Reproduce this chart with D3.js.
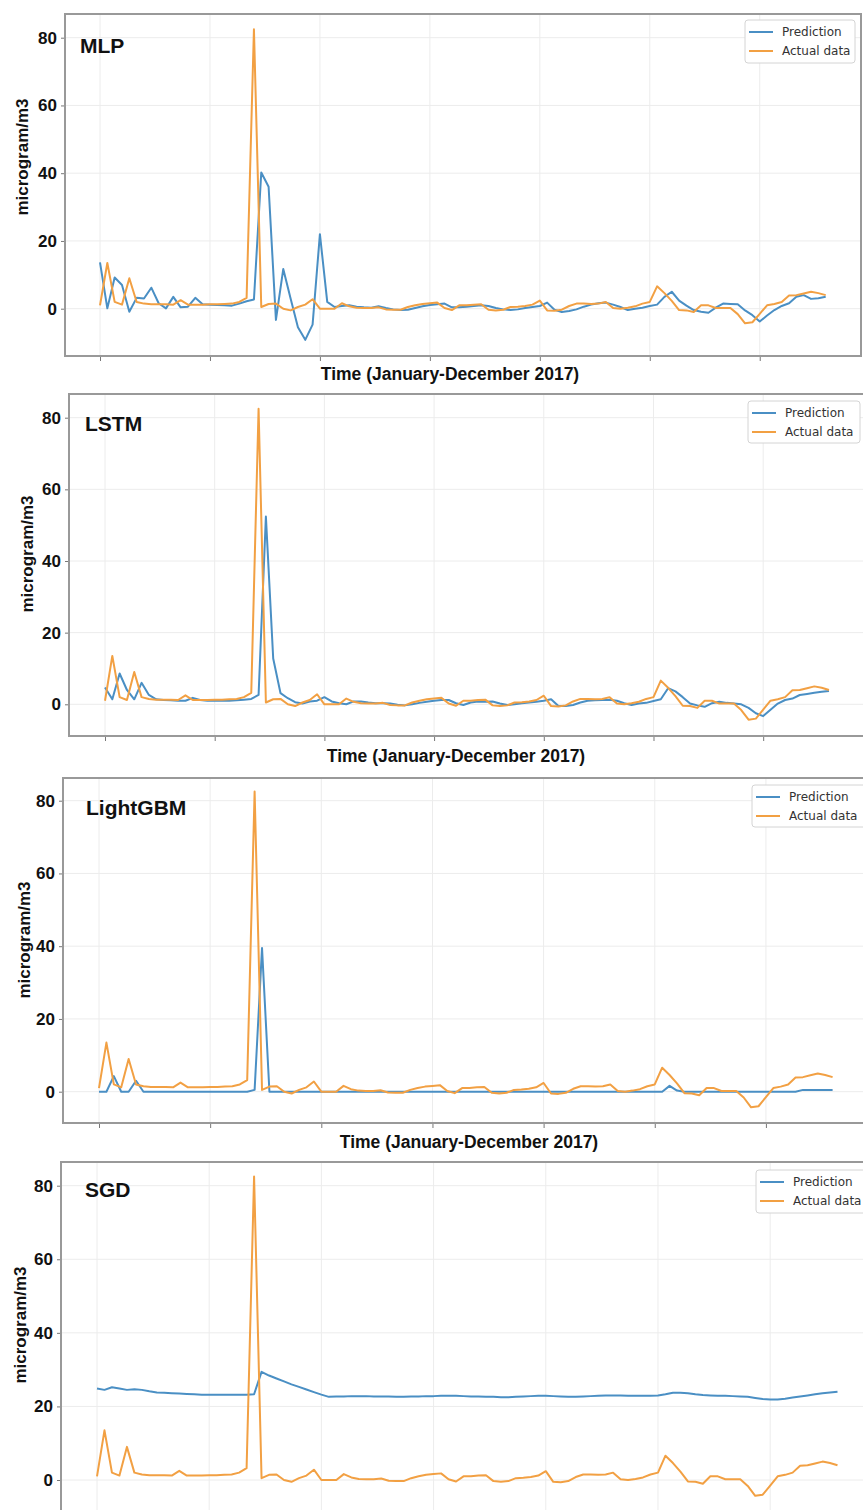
<!DOCTYPE html>
<html>
<head>
<meta charset="utf-8">
<script src="https://cdn.jsdelivr.net/npm/d3@7"></script>
<style>
  html, body { margin: 0; padding: 0; background: #fff; }
  svg { display: block; }
</style>
</head>
<body>
<div id="chart"></div>
<script>
// series, one value per time step (Jan-Dec 2017)
const models = ['MLP', 'LSTM', 'LightGBM', 'SGD'];
const seriesNames = ['Prediction', 'Actual data'];
const yTicks = [0, 20, 40, 60, 80];
const xTicks = [0, 15, 30, 45, 60, 75, 90];

const actual = [
  1.0, 13.5, 2.0, 1.2, 9.0, 2.0, 1.5, 1.3, 1.3, 1.3,
  1.2, 2.5, 1.2, 1.2, 1.2, 1.3, 1.3, 1.4, 1.5, 2.0,
  3.2, 82.5, 0.5, 1.4, 1.5, 0.0, -0.5, 0.5, 1.2, 2.8,
  0.0, 0.0, 0.0, 1.6, 0.7, 0.3, 0.2, 0.2, 0.4, -0.2,
  -0.3, -0.3, 0.5, 1.0, 1.4, 1.6, 1.8, 0.2, -0.4, 1.0,
  1.0, 1.2, 1.3, -0.3, -0.5, -0.3, 0.5, 0.6, 0.8, 1.2,
  2.4, -0.5, -0.6, -0.3, 0.8, 1.5, 1.5, 1.4, 1.5, 2.0,
  0.2, 0.0, 0.3, 0.7, 1.5, 2.0, 6.6, 4.6, 2.3, -0.4,
  -0.5, -1.0, 1.0, 1.0, 0.2, 0.2, 0.2, -1.6, -4.3, -4.0,
  -1.5, 1.0, 1.4, 2.0, 3.9, 4.0, 4.5, 5.0, 4.6, 4.0
];

const mlpPred = [
  13.7, 0.1, 9.2, 7.0, -0.9, 3.2, 3.0, 6.2, 1.6, 0.1,
  3.5, 0.4, 0.6, 3.2, 1.3, 1.2, 1.1, 1.0, 0.9, 1.5,
  2.2, 2.7, 40.2, 36.0, -3.3, 11.7, 3.0, -5.5, -9.2, -4.7,
  22.0, 2.0, 0.5, 0.8, 1.0, 0.6, 0.4, 0.3, 0.7, 0.2,
  -0.2, -0.4, -0.3, 0.2, 0.7, 1.1, 1.3, 1.5, 0.4, 0.4,
  0.6, 0.8, 1.0, 0.8, 0.2, -0.2, -0.4, -0.2, 0.2, 0.5,
  0.8, 1.8, -0.3, -1.0, -0.7, -0.2, 0.6, 1.2, 1.6, 1.8,
  1.2, 0.5, -0.4, 0.0, 0.3, 0.8, 1.2, 3.5, 5.0, 2.4,
  0.9, -0.4, -0.9, -1.2, 0.3, 1.5, 1.4, 1.3, -0.5, -1.9,
  -3.8, -2.0, -0.4, 0.8, 1.6, 3.5, 4.0, 2.9, 3.1, 3.5
];

const lstmPred = [
  4.7, 1.4, 8.6, 4.0, 1.4, 6.0, 2.6, 1.4, 1.2, 1.1,
  1.0, 1.0, 1.8, 1.2, 1.0, 1.0, 1.0, 1.0, 1.1, 1.3,
  1.5, 2.6, 52.4, 12.8, 3.1, 1.7, 0.6, 0.2, 0.8, 1.0,
  2.0, 0.8, 0.3, 0.0, 0.8, 0.8, 0.5, 0.3, 0.3, 0.2,
  -0.1, -0.3, 0.0, 0.4, 0.7, 1.0, 1.2, 1.2, 0.3, -0.2,
  0.5, 0.8, 0.7, 0.8, 0.2, -0.2, 0.0, 0.3, 0.5, 0.7,
  1.0, 1.4, -0.5, -0.5, -0.2, 0.5, 1.0, 1.1, 1.2, 1.3,
  1.0, 0.3, -0.2, 0.2, 0.4, 0.9, 1.4, 4.5, 3.6, 2.0,
  0.2, -0.3, -0.7, 0.3, 0.7, 0.4, 0.2, 0.0, -1.0, -2.5,
  -3.3, -1.5, 0.2, 1.2, 1.6, 2.6, 2.9, 3.2, 3.5, 3.7
];

const lgbmPred = [
  0.0, 0.0, 4.3, 0.0, 0.0, 3.0, 0.0, 0.0, 0.0, 0.0,
  0.0, 0.0, 0.0, 0.0, 0.0, 0.0, 0.0, 0.0, 0.0, 0.0,
  0.0, 0.5, 39.5, 0.0, 0.0, 0.0, 0.0, 0.0, 0.0, 0.0,
  0.0, 0.0, 0.0, 0.0, 0.0, 0.0, 0.0, 0.0, 0.0, 0.0,
  0.0, 0.0, 0.0, 0.0, 0.0, 0.0, 0.0, 0.0, 0.0, 0.0,
  0.0, 0.0, 0.0, 0.0, 0.0, 0.0, 0.0, 0.0, 0.0, 0.0,
  0.0, 0.0, 0.0, 0.0, 0.0, 0.0, 0.0, 0.0, 0.0, 0.0,
  0.0, 0.0, 0.0, 0.0, 0.0, 0.0, 0.0, 1.6, 0.3, 0.0,
  0.0, 0.0, 0.0, 0.0, 0.0, 0.0, 0.0, 0.0, 0.0, 0.0,
  0.0, 0.0, 0.0, 0.0, 0.0, 0.5, 0.5, 0.5, 0.5, 0.5
];

const sgdPred = [
  24.9, 24.5, 25.2, 24.9, 24.5, 24.7, 24.5, 24.1, 23.8, 23.7,
  23.6, 23.5, 23.4, 23.3, 23.2, 23.2, 23.2, 23.2, 23.2, 23.2,
  23.2, 23.3, 29.4, 28.4, 27.6, 26.8, 26.0, 25.3, 24.6, 23.9,
  23.2, 22.6, 22.7, 22.7, 22.8, 22.8, 22.8, 22.7, 22.7, 22.7,
  22.6, 22.6, 22.7, 22.7, 22.8, 22.8, 22.9, 22.9, 22.9, 22.8,
  22.7, 22.7, 22.6, 22.6, 22.5, 22.5, 22.6, 22.7, 22.8, 22.9,
  22.9, 22.8, 22.7, 22.6, 22.6, 22.7, 22.8, 22.9, 23.0, 23.0,
  23.0, 22.9, 22.9, 22.9, 22.9, 23.0, 23.3, 23.7, 23.7, 23.6,
  23.3, 23.1, 23.0, 22.9, 22.9, 22.8, 22.7, 22.6, 22.3, 22.0,
  21.9, 21.9, 22.1, 22.4, 22.7, 23.0, 23.3, 23.6, 23.8, 24.0
];

const predictions = [mlpPred, lstmPred, lgbmPred, sgdPred];

// each panel of the scanned figure sits a little differently;
// the last one is cut off by the page, so its x title is not shown
const layouts = [
  {x: [100, 825.7], y: [308.7, 37.7], frame: {l: 65, r: 861, t: 14, b: 356},
   label: [80, 53], yTitle: [22, 157], xTitle: [450, 380], legend: [745, 20, 110, 43]},
  {x: [105, 829], y: [704.3, 417.7], frame: {l: 69, r: 880, t: 394, b: 736},
   label: [85, 431], yTitle: [27, 554], xTitle: [456, 762], legend: [748, 401, 112, 42]},
  {x: [99, 832.6], y: [1091.7, 800.7], frame: {l: 63, r: 880, t: 778, b: 1123},
   label: [86, 815], yTitle: [24, 940], xTitle: [469, 1148], legend: [752, 785, 115, 42]},
  {x: [97, 837.5], y: [1480, 1185.7], frame: {l: 61, r: 880, t: 1162, b: 1513},
   label: [85, 1197], yTitle: [20, 1325], xTitle: null, legend: [756, 1170, 115, 43]}
];

const colors = {pred: '#4a8fc4', actual: '#f2a043'};
const boldFont = '"Liberation Sans", Arial, sans-serif';

const svg = d3.select('#chart').append('svg')
    .attr('width', 863)
    .attr('height', 1510);

models.forEach((name, i) => {
  const L = layouts[i];
  const f = L.frame;
  const pred = predictions[i];

  const xScale = d3.scaleLinear().domain([0, actual.length - 1]).range(L.x);
  const yScale = d3.scaleLinear().domain([0, 80]).range(L.y);

  const g = svg.append('g');

  // grid
  g.append('g').selectAll('line')
    .data(yTicks)
    .enter().append('line')
      .attr('x1', f.l).attr('x2', f.r)
      .attr('y1', d => yScale(d)).attr('y2', d => yScale(d))
      .attr('stroke', '#ececec').attr('stroke-width', 1);

  g.append('g').selectAll('line')
    .data(xTicks)
    .enter().append('line')
      .attr('x1', d => xScale(d)).attr('x2', d => xScale(d))
      .attr('y1', f.t).attr('y2', f.b)
      .attr('stroke', '#ececec').attr('stroke-width', 1);

  // axes
  const yAxis = d3.axisLeft(yScale).tickValues(yTicks).tickSize(4).tickPadding(4);
  const ya = g.append('g')
      .attr('transform', 'translate(' + f.l + ',0)')
      .call(yAxis);
  ya.select('.domain').remove();
  ya.selectAll('line').attr('stroke', '#777');
  ya.selectAll('text')
      .attr('font-family', boldFont)
      .attr('font-weight', 'bold')
      .attr('font-size', 17)
      .attr('fill', '#111');

  const xAxis = d3.axisBottom(xScale).tickValues(xTicks).tickSize(5).tickFormat('');
  const xa = g.append('g')
      .attr('transform', 'translate(0,' + f.b + ')')
      .call(xAxis);
  xa.select('.domain').remove();
  xa.selectAll('line').attr('stroke', '#777');

  // frame
  g.append('rect')
      .attr('x', f.l).attr('y', f.t)
      .attr('width', f.r - f.l).attr('height', f.b - f.t)
      .attr('fill', 'none')
      .attr('stroke', '#999')
      .attr('stroke-width', 2);

  const line = d3.line()
      .x((d, j) => xScale(j))
      .y(d => yScale(d));

  g.append('path')
      .datum(pred)
      .attr('d', line)
      .attr('fill', 'none')
      .attr('stroke', colors.pred)
      .attr('stroke-width', 2)
      .attr('stroke-linejoin', 'round');

  g.append('path')
      .datum(actual)
      .attr('d', line)
      .attr('fill', 'none')
      .attr('stroke', colors.actual)
      .attr('stroke-width', 2)
      .attr('stroke-linejoin', 'round');

  // panel name
  g.append('text')
      .attr('x', L.label[0]).attr('y', L.label[1])
      .attr('font-family', boldFont)
      .attr('font-weight', 'bold')
      .attr('font-size', 21)
      .attr('fill', '#111')
      .text(name);

  // axis titles
  g.append('text')
      .attr('transform', 'translate(' + L.yTitle[0] + ',' + L.yTitle[1] + ') rotate(-90)')
      .attr('dy', '0.35em')
      .attr('text-anchor', 'middle')
      .attr('font-family', boldFont)
      .attr('font-weight', 'bold')
      .attr('font-size', 17)
      .attr('fill', '#111')
      .text('microgram/m3');

  if (L.xTitle) {
    g.append('text')
        .attr('x', L.xTitle[0]).attr('y', L.xTitle[1])
        .attr('text-anchor', 'middle')
        .attr('font-family', boldFont)
        .attr('font-weight', 'bold')
        .attr('font-size', 17.5)
        .attr('fill', '#111')
        .text('Time (January-December 2017)');
  }

  // legend
  const lg = g.append('g')
      .attr('transform', 'translate(' + L.legend[0] + ',' + L.legend[1] + ')');
  lg.append('rect')
      .attr('width', L.legend[2]).attr('height', L.legend[3])
      .attr('rx', 3)
      .attr('fill', '#fff')
      .attr('stroke', '#d4d4d4');

  const item = lg.selectAll('g.item')
      .data(seriesNames)
      .enter().append('g')
        .attr('class', 'item')
        .attr('transform', (d, k) => 'translate(0,' + (12 + k * 19) + ')');
  item.append('line')
      .attr('x1', 4).attr('x2', 28)
      .attr('stroke', (d, k) => k === 0 ? colors.pred : colors.actual)
      .attr('stroke-width', 2);
  item.append('text')
      .attr('x', 37)
      .attr('dy', '0.35em')
      .attr('font-family', '"DejaVu Sans", sans-serif')
      .attr('font-size', 12)
      .attr('fill', '#333')
      .text(d => d);
});
</script>
</body>
</html>
